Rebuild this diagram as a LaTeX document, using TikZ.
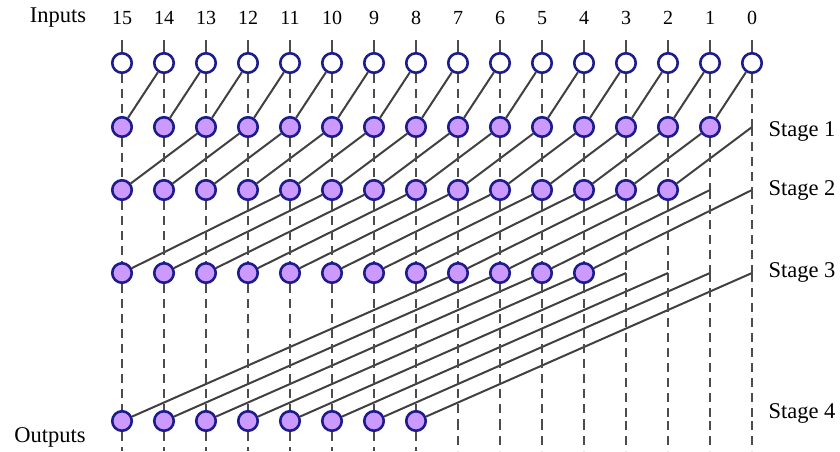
\documentclass[tikz,border=0pt]{standalone}
\usepackage{fontspec}
\setmainfont{Liberation Serif}
\usetikzlibrary{backgrounds}
\definecolor{navy}{RGB}{28,28,140}
\definecolor{lav}{RGB}{204,153,255}

\begin{document}
\begin{tikzpicture}[x=1pt,y=-1pt,font=\fontsize{20}{24}\selectfont,
  inp/.style={circle,draw=navy,fill=white,line width=2.6pt,inner sep=0pt,minimum size=19.5pt},
  cell/.style={inp,fill=lav},
  wire/.style={line width=2pt,draw=black!75},
  col/.style={line width=2pt,draw=black!70,dash pattern=on 9pt off 6pt},
  tick/.style={line width=2pt,draw=black!70},
  word/.style={font=\fontsize{22.5}{26}\selectfont}]
\useasboundingbox (0,0) rectangle (840,451);
\foreach \i in {0,...,15}{
  \pgfmathsetmacro\xx{122+42*(15-\i)}
  \node[inp](n0-\i) at(\xx,63){};
  \node(lb\i) at(\xx,18){\i};
  \coordinate(top\i) at(\xx,40);
  \coordinate(bot\i) at(\xx,451);
}
\foreach \s/\y/\k in {1/127/1,2/190/2,3/273/4,4/421/8}
  \foreach \i in {0,...,15}{
    \pgfmathsetmacro\xx{122+42*(15-\i)}
    \ifnum\i<\k \coordinate(n\s-\i) at(\xx,\y); \else \node[cell](n\s-\i) at(\xx,\y){}; \fi
  }
\begin{pgfonlayer}{background}
\foreach \s/\k in {1/1,2/2,3/4,4/8}{
  \pgfmathtruncatemacro\p{\s-1}
  \pgfmathtruncatemacro\m{15-\k}
  \foreach \i in {0,...,\m}{
    \pgfmathtruncatemacro\j{\i+\k}
    \draw[wire](n\p-\i)--(n\s-\j);
  }
}
\foreach \i in {0,...,15}{
  \draw[tick](top\i)--(n0-\i);
  \foreach \s in {0,...,3}{
    \pgfmathtruncatemacro\t{\s+1}
    \draw[col](n\s-\i)--(n\t-\i);
  }
  \draw[col](n4-\i)--(bot\i);
}
\end{pgfonlayer}
\node[word](inl) at(58,18){Inputs};
\node[word](outl) at(50,437){Outputs};
\foreach \s/\y in {1/131,2/190,3/272,4/413}
  \node[word,anchor=west](st\s) at(765,\y){Stage \s};
\end{tikzpicture}
\end{document}
